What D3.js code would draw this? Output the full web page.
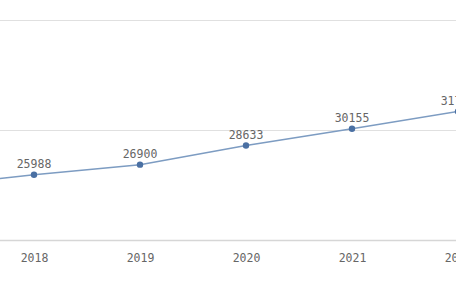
<!DOCTYPE html>
<html>
<head>
<meta charset="utf-8">
<script src="https://cdn.jsdelivr.net/npm/d3@7"></script>
<style>
  html, body { margin: 0; padding: 0; background: #fff; overflow: hidden; }
  svg { display: block; }
</style>
</head>
<body>
<div id="chart"></div>
<script>
const years = ['2017', '2018', '2019', '2020', '2021', '2022'];
const values = [24900, 25988, 26900, 28633, 30155, 31732];
const yTicks = [20000, 30000, 40000];

const size = { width: 456, height: 287 };

const svg = d3
  .select('#chart')
  .append('svg')
  .attr('width', size.width)
  .attr('height', size.height);

// plot area is cropped: first and last categories fall outside the window
const x = d3.scalePoint().domain(years).range([-72, 458]);
const y = d3.scaleLinear().domain([20000, 40000]).range([240.7, 20.3]);

const font = "'DejaVu Sans Mono', monospace";

// grid lines
yTicks.forEach((t, i) => {
  svg
    .append('line')
    .attr('x1', 0)
    .attr('x2', size.width)
    .attr('y1', Math.floor(y(t)) + 0.5)
    .attr('y2', Math.floor(y(t)) + 0.5)
    .attr('stroke', i === 0 ? '#d6d6d6' : '#e0e0e0')
    .attr('stroke-width', i === 0 ? 1.5 : 1);
});

// x axis labels
const xAxis = svg
  .append('g')
  .attr('transform', `translate(0, ${y(20000)})`)
  .call(d3.axisBottom(x).tickSize(0).tickPadding(13));
xAxis.select('.domain').remove();
xAxis
  .selectAll('text')
  .attr('fill', '#666')
  .style('font-family', font)
  .style('font-size', '11.5px');

const data = years.map((d, i) => ({ year: d, value: values[i] }));

const line = d3
  .line()
  .x((d) => x(d.year))
  .y((d) => y(d.value));

svg
  .append('path')
  .datum(data)
  .attr('d', line)
  .attr('fill', 'none')
  .attr('stroke', '#7d9cc2')
  .attr('stroke-width', 1.5);

svg
  .selectAll('circle.pt')
  .data(data)
  .enter()
  .append('circle')
  .attr('class', 'pt')
  .attr('cx', (d) => x(d.year))
  .attr('cy', (d) => y(d.value))
  .attr('r', 3.2)
  .attr('fill', '#4a70a3');

svg
  .selectAll('text.lbl')
  .data(data)
  .enter()
  .append('text')
  .attr('class', 'lbl')
  .attr('x', (d) => x(d.year))
  .attr('y', (d) => y(d.value) - 6.5)
  .attr('text-anchor', 'middle')
  .attr('fill', '#666')
  .style('font-family', font)
  .style('font-size', '11.5px')
  .text((d) => d.value);
</script>
</body>
</html>
